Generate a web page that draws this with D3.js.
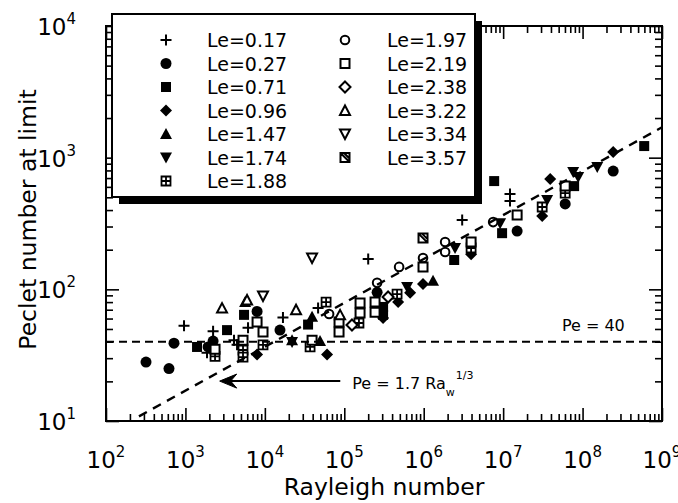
<!DOCTYPE html>
<html>
<head>
<meta charset="utf-8">
<script src="https://cdn.jsdelivr.net/npm/d3@7"></script>
<style>
  body { margin: 0; background: #fff; }
  svg { display: block; font-family: "DejaVu Sans", sans-serif; }
</style>
</head>
<body>
<div id="chart"></div>
<script>
// Lewis numbers shown in the legend, and the symbol used for each
const leLabels = ['Le=0.17', 'Le=0.27', 'Le=0.71', 'Le=0.96', 'Le=1.47', 'Le=1.74', 'Le=1.88',
  'Le=1.97', 'Le=2.19', 'Le=2.38', 'Le=3.22', 'Le=3.34', 'Le=3.57'];
const leSymbols = ['plus', 'circle', 'square', 'diamond', 'triUp', 'triDown', 'gridSq',
  'oCircle', 'oSquare', 'oDiamond', 'oTriUp', 'oTriDown', 'slashSq'];

// [Rayleigh number, Peclet number at limit]
const le017 = [[960, 53], [2230, 48], [1870, 33], [4090, 41], [6140, 51], [4470, 38], [16900, 61],
  [46800, 72], [2.0e5, 170], [3.05e6, 336], [1.22e7, 530], [1.22e7, 468]];
const le027 = [[319, 28], [621, 25], [718, 39], [1930, 36.5], [2230, 40.5], [7980, 68], [15500, 49],
  [2.59e5, 95], [1.5e7, 277], [6.04e7, 445], [2.43e8, 791]];
const le071 = [[1400, 36.5], [3340, 49], [5470, 64], [35000, 54], [3.08e5, 73.5], [3.08e5, 64],
  [2.42e6, 167], [7.71e6, 664], [9.7e6, 267], [7.83e7, 608], [5.97e8, 1225]];
const le096 = [[7980, 32], [60700, 32], [3.08e5, 60.5], [4.76e5, 80], [6.75e5, 94], [9.8e5, 110],
  [3.95e6, 185], [3.1e7, 360], [3.91e7, 689], [2.43e8, 1104]];
const le147 = [[5640, 80], [39300, 62], [22000, 41], [49500, 40.5], [1.31e6, 116]];
const le174 = [[22000, 39.8], [6.18e5, 104], [2.48e6, 206], [9.16e6, 318], [3.58e7, 477],
  [7.62e7, 778], [8.81e7, 713], [1.53e8, 849]];
const le188 = [[2360, 31], [5310, 34.6], [5310, 30.6], [9480, 37.8], [37100, 36.5], [59000, 80],
  [1.53e5, 55.5], [4.62e5, 92], [3.95e6, 206], [3.1e7, 422], [6.04e7, 538]];
const le197 = [[64400, 65], [2.59e5, 112], [4.9e5, 148], [9.8e5, 173], [1.86e6, 229], [1.86e6, 192],
  [7.48e6, 324]];
const le219 = [[2360, 35], [7980, 56.5], [9480, 47.4], [5310, 41], [39300, 41], [85900, 56.5],
  [85900, 47.4], [1.58e5, 78.7], [1.58e5, 66], [2.44e5, 80], [2.44e5, 67], [9.8e5, 148],
  [3.95e6, 229], [1.5e7, 367], [6.04e7, 608]];
const le238 = [[1.25e5, 53.6], [3.56e5, 87.5]];
const le322 = [[2890, 72], [5970, 83], [24700, 70], [88500, 64]];
const le334 = [[9480, 89], [39300, 173]];
const le357 = [[9.8e5, 245]];

const seriesData = [le017, le027, le071, le096, le147, le174, le188,
  le197, le219, le238, le322, le334, le357];

// reference lines
const peConst = 40;
const fitCoef = 1.7;
const fitRange = [260, 1e9];

const xPowers = [2, 3, 4, 5, 6, 7, 8, 9];
const yPowers = [1, 2, 3, 4];

const width = 678;
const height = 503;
const plot = { left: 106, right: 662, top: 26, bottom: 421 };

const svg = d3.select('#chart').append('svg')
  .attr('width', width)
  .attr('height', height);

const x = d3.scaleLog().domain([1e2, 1e9]).range([plot.left, plot.right]);
const y = d3.scaleLog().domain([1e1, 1e4]).range([plot.bottom, plot.top]);

const isMajor = (v) => Math.abs(Math.log10(v) - Math.round(Math.log10(v))) < 1e-9;
const xMajor = x.ticks().filter(isMajor);
const xMinor = x.ticks().filter((v) => !isMajor(v));
const yMajor = y.ticks().filter(isMajor);
const yMinor = y.ticks().filter((v) => !isMajor(v));

// ticks point inward on all four sides
const addAxis = (axisFn, scale, values, size, transform) => {
  const g = svg.append('g')
    .attr('transform', transform)
    .call(axisFn(scale).tickValues(values).tickSizeInner(-size).tickSizeOuter(0).tickFormat(''));
  g.select('.domain').remove();
  g.selectAll('line').attr('stroke', '#000').attr('stroke-width', 1.6);
};
addAxis(d3.axisBottom, x, xMajor, 13, `translate(0,${plot.bottom})`);
addAxis(d3.axisBottom, x, xMinor, 7, `translate(0,${plot.bottom})`);
addAxis(d3.axisTop, x, xMajor, 13, `translate(0,${plot.top})`);
addAxis(d3.axisTop, x, xMinor, 7, `translate(0,${plot.top})`);
addAxis(d3.axisLeft, y, yMajor, 13, `translate(${plot.left},0)`);
addAxis(d3.axisLeft, y, yMinor, 7, `translate(${plot.left},0)`);
addAxis(d3.axisRight, y, yMajor, 13, `translate(${plot.right},0)`);
addAxis(d3.axisRight, y, yMinor, 7, `translate(${plot.right},0)`);

svg.append('rect')
  .attr('x', plot.left).attr('y', plot.top)
  .attr('width', plot.right - plot.left).attr('height', plot.bottom - plot.top)
  .attr('fill', 'none').attr('stroke', '#000').attr('stroke-width', 2);

// tick labels as 10 with a superscript power
const xLab = svg.append('g').selectAll('text').data(xPowers).join('text')
  .attr('x', (p) => x(Math.pow(10, p)))
  .attr('y', plot.bottom + 47)
  .attr('text-anchor', 'middle')
  .attr('font-size', 23);
xLab.append('tspan').text('10');
xLab.append('tspan').attr('dy', -11).attr('font-size', 15).text((p) => p);

const yLab = svg.append('g').selectAll('text').data(yPowers).join('text')
  .attr('x', plot.left - 30)
  .attr('y', (p) => y(Math.pow(10, p)) + 9)
  .attr('text-anchor', 'end')
  .attr('font-size', 23);
yLab.append('tspan').text('10');
yLab.append('tspan').attr('dy', -11).attr('font-size', 15).text((p) => p);

svg.append('text')
  .attr('x', (plot.left + plot.right) / 2)
  .attr('y', 495)
  .attr('text-anchor', 'middle')
  .attr('font-size', 23.5)
  .text('Rayleigh number');

svg.append('text')
  .attr('transform', `translate(36,${(plot.top + plot.bottom) / 2 - 4}) rotate(-90)`)
  .attr('text-anchor', 'middle')
  .attr('font-size', 23.5)
  .text('Peclet number at limit');

// symbol shapes
const circ = (r) => `M${r},0A${r},${r} 0 1 1 ${-r},0A${r},${r} 0 1 1 ${r},0Z`;
const symbolDefs = {
  plus: { d: 'M-5.5,0H5.5M0,-5.5V5.5', fill: 'none', sw: 2 },
  circle: { d: circ(5.5), fill: '#000', sw: 0 },
  square: { d: 'M-5,-5H5V5H-5Z', fill: '#000', sw: 0 },
  diamond: { d: 'M0,-6L6,0L0,6L-6,0Z', fill: '#000', sw: 0 },
  triUp: { d: 'M0,-6L6,5L-6,5Z', fill: '#000', sw: 0 },
  triDown: { d: 'M0,6L6,-5L-6,-5Z', fill: '#000', sw: 0 },
  gridSq: { d: 'M-4.5,-4.5H4.5V4.5H-4.5ZM0,-4.5V4.5M-4.5,0H4.5', fill: '#fff', sw: 1.8 },
  oCircle: { d: circ(4.3), fill: '#fff', sw: 2 },
  oSquare: { d: 'M-4.5,-4.5H4.5V4.5H-4.5Z', fill: '#fff', sw: 2 },
  oDiamond: { d: 'M0,-5.5L5.5,0L0,5.5L-5.5,0Z', fill: '#fff', sw: 2 },
  oTriUp: { d: 'M0,-5L5,4.5L-5,4.5Z', fill: '#fff', sw: 2 },
  oTriDown: { d: 'M0,5L5,-4.5L-5,-4.5Z', fill: '#fff', sw: 2 },
  slashSq: { d: 'M-4.5,-4.5H4.5V4.5H-4.5ZM-4.5,-4.5L4.5,4.5M-1,-4.5L4.5,-4.5L4.5,1Z', fill: '#fff', sw: 2 },
};

const drawSymbol = (sel, type) => {
  const def = symbolDefs[type];
  sel.append('path')
    .attr('d', def.d)
    .attr('fill', def.fill)
    .attr('stroke', '#000')
    .attr('stroke-width', def.sw)
    .attr('stroke-linejoin', 'miter');
};

// data points
const pointsG = svg.append('g').attr('class', 'points');
seriesData.forEach((pts, i) => {
  pointsG.append('g').selectAll('g').data(pts).join('g')
    .attr('transform', (d) => `translate(${x(d[0])},${y(d[1])})`)
    .each(function () { drawSymbol(d3.select(this), leSymbols[i]); });
});

// Pe = 40 and Pe = 1.7 Ra^(1/3)
svg.append('line')
  .attr('x1', plot.left).attr('x2', plot.right)
  .attr('y1', y(peConst)).attr('y2', y(peConst))
  .attr('stroke', '#000').attr('stroke-width', 1.8)
  .attr('stroke-dasharray', '8,5');

svg.append('line')
  .attr('x1', x(fitRange[0])).attr('y1', y(fitCoef * Math.cbrt(fitRange[0])))
  .attr('x2', x(fitRange[1])).attr('y2', y(fitCoef * Math.cbrt(fitRange[1])))
  .attr('stroke', '#000').attr('stroke-width', 2.4)
  .attr('stroke-dasharray', '9,7');

svg.append('text')
  .attr('x', x(5.5e7)).attr('y', y(48))
  .attr('font-size', 16)
  .text('Pe = 40');

// arrow pointing at the fitted line
const arrowY = y(20.1);
const arrowX0 = x(2.7e3);
const arrowX1 = x(8.9e4);
svg.append('line')
  .attr('x1', arrowX0 + 8).attr('x2', arrowX1)
  .attr('y1', arrowY).attr('y2', arrowY)
  .attr('stroke', '#000').attr('stroke-width', 2);
svg.append('path')
  .attr('d', `M${arrowX0},${arrowY}L${arrowX0 + 17},${arrowY - 7}L${arrowX0 + 11},${arrowY}L${arrowX0 + 17},${arrowY + 7}Z`)
  .attr('fill', '#000').attr('stroke', '#000').attr('stroke-width', 1);

const fitLabel = svg.append('text')
  .attr('x', x(1.26e5)).attr('y', arrowY + 8)
  .attr('font-size', 16);
fitLabel.append('tspan').text('Pe = 1.7 Ra');
fitLabel.append('tspan').attr('dy', 7).attr('font-size', 11).text('w');
fitLabel.append('tspan').attr('dy', -17).attr('dx', 1).attr('font-size', 11).text('1/3');

// legend box with drop shadow
const legend = { x: 112, y: 14, w: 363, h: 183, shadow: 7 };
svg.append('rect')
  .attr('x', legend.x + legend.shadow).attr('y', legend.y + legend.shadow)
  .attr('width', legend.w).attr('height', legend.h)
  .attr('fill', '#000');
svg.append('rect')
  .attr('x', legend.x).attr('y', legend.y)
  .attr('width', legend.w).attr('height', legend.h)
  .attr('fill', '#fff').attr('stroke', '#000').attr('stroke-width', 2);

const rowsPerCol = 7;
const legendCols = [{ sym: 166, text: 207 }, { sym: 345, text: 387 }];
leLabels.forEach((label, i) => {
  const col = legendCols[Math.floor(i / rowsPerCol)];
  const ry = 40 + (i % rowsPerCol) * 23.5;
  drawSymbol(svg.append('g').attr('transform', `translate(${col.sym},${ry})`), leSymbols[i]);
  svg.append('text')
    .attr('x', col.text).attr('y', ry + 7)
    .attr('font-size', 19)
    .text(label);
});
</script>
</body>
</html>
